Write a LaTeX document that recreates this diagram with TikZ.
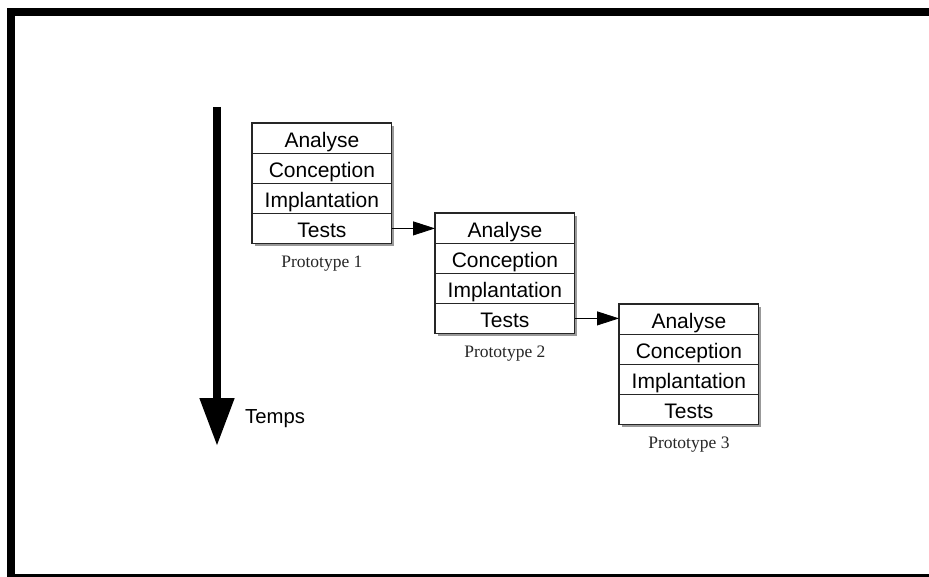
\documentclass[tikz,border=0pt]{standalone}
\usepackage{fontspec}
\setmainfont{Liberation Serif}
\setsansfont{Liberation Sans}
\usetikzlibrary{arrows.meta,calc}
\tikzset{
  row/.style={draw=black!85, fill=white, line width=0.8pt, minimum width=139pt, minimum height=30pt,
    text height=18pt, text depth=0pt,
    inner sep=0pt, anchor=north west, font=\sffamily\fontsize{21}{24}\selectfont},
  outerbox/.style={draw=black!85, line width=1.3pt},
  shadowc/.style={fill=black!40},
  proto/.style={font=\rmfamily\fontsize{17.5}{20}\selectfont, inner sep=0pt, text=black!85},
  conn/.style={line width=0.8pt, -{Triangle[length=22pt,width=14pt]}},
  timearrow/.style={line width=8pt, -{Triangle[length=48pt,width=33pt]}},
  frame/.style={line width=8pt}
}
\newcommand\protobox[3]{%
  \fill[shadowc] (#2+3,-#3-3) rectangle (#2+139+3,-#3-120-3);
  \node[row] (a#1) at (#2,-#3) {Analyse};
  \node[row] (c#1) at (#2,-#3-30) {Conception};
  \node[row] (i#1) at (#2,-#3-60) {Implantation};
  \node[row] (t#1) at (#2,-#3-90) {Tests};
  \draw[outerbox] (a#1.north west) rectangle (t#1.south east);
  \node[proto] (p#1) at ($(t#1.south)+(0,-20)$) {Prototype #1};
}
\begin{document}
\begin{tikzpicture}[x=1pt,y=1pt]
\useasboundingbox (0,0) rectangle (929,-577);
\clip (0,0) rectangle (929,-577);
\draw[frame] (11,-12) rectangle (945,-578);
\protobox{1}{252}{123}
\protobox{2}{435}{213}
\protobox{3}{619}{304}
\draw[conn] (t1.east) -- (t1.east -| a2.west);
\draw[conn] (t2.east) -- (t2.east -| a3.west);
\coordinate (ttop) at (217,-107);
\coordinate (tbot) at (217,-446);
\draw[timearrow] (ttop) -- (tbot);
\node[font=\sffamily\fontsize{20.3}{24}\selectfont, anchor=west, inner sep=0pt] (temps) at (245,-419) {Temps};
\end{tikzpicture}
\end{document}
